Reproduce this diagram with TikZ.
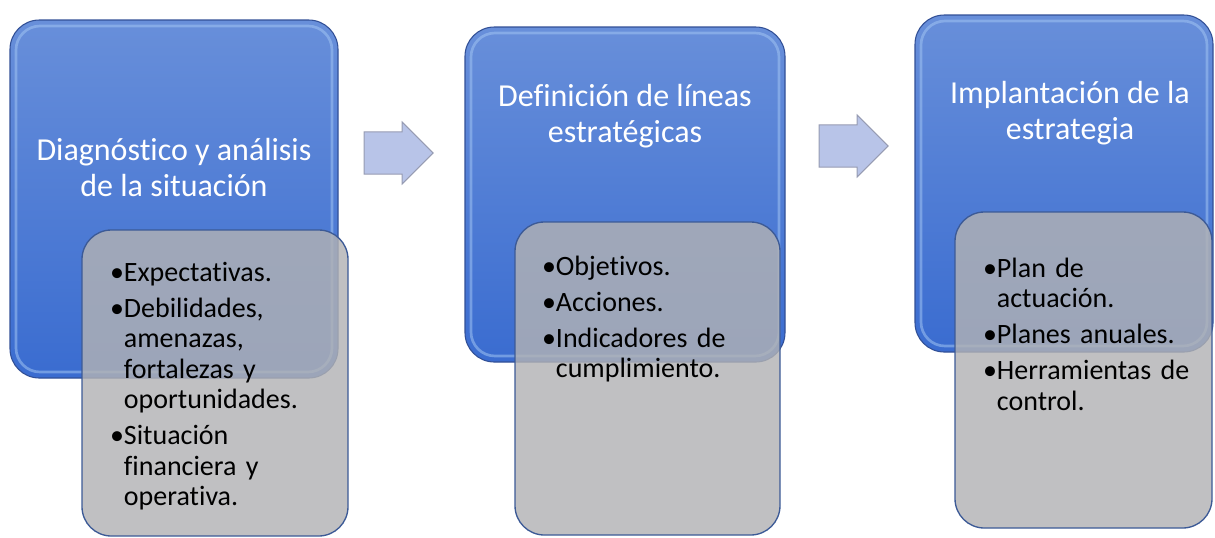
\documentclass[tikz,border=0pt]{standalone}
\usepackage{fontspec}
\setmainfont{Carlito}[Ligatures=NoCommon]
\newfontfamily\listfont{Carlito}[Ligatures=NoCommon, WordSpace=0.85]
\usetikzlibrary{shapes.arrows}
\definecolor{bluetop}{RGB}{104,143,218}
\definecolor{bluebot}{RGB}{58,108,208}
\definecolor{stageline}{RGB}{50,80,150}
\definecolor{bevelc}{RGB}{160,195,242}
\definecolor{detline}{RGB}{60,90,150}
\definecolor{detfill}{RGB}{178,178,180}
\definecolor{arrfill}{RGB}{184,196,232}
\definecolor{arrline}{RGB}{150,155,178}
\newlength\bulw
\newcommand{\nl}{\hfil\break}
\newcommand{\itm}[1]{\par\rightskip=0pt plus 1fil\parfillskip=0pt plus 1fil\hangindent=\bulw\hangafter=1\noindent\strut•#1\strut\par\vspace{4.2pt}}
\tikzset{inner sep=0pt, outer sep=0pt,
  stage/.style={draw=stageline, line width=0.8pt, rounded corners=22pt, top color=bluetop, bottom color=bluebot},
  bevel/.style={draw=bevelc, line width=2pt, rounded corners=18pt, draw opacity=0.55},
  title/.style={text=white, align=center, font=\fontsize{24}{27}\selectfont},
  detail/.style={draw=detline, line width=1pt, rounded corners=22pt, fill=detfill, fill opacity=0.82},
  items/.style={anchor=north west, text width=190pt, font=\listfont\fontsize{21}{22.8}\selectfont\settowidth\bulw{•}},
  flecha/.style={single arrow, draw=arrline, fill=arrfill, line width=0.8pt, inner ysep=15.4pt, minimum height=51.75pt, single arrow head extend=7.4pt}
}
\begin{document}
\begin{tikzpicture}[x=0.75pt, y=-0.75pt]
\useasboundingbox (0,0) rectangle (1215,537);
% blue stages
\node[stage, minimum width=246pt, minimum height=268.5pt] (s1) at (174,199) {};
\node[stage, minimum width=240pt, minimum height=251.25pt] (s2) at (625,194.5) {};
\node[stage, minimum width=223.5pt, minimum height=252.75pt] (s3) at (1064,183.5) {};
\node[bevel, minimum width=237pt, minimum height=259.5pt] (b1) at (s1.center) {};
\node[bevel, minimum width=231pt, minimum height=242.25pt] (b2) at (s2.center) {};
\node[bevel, minimum width=214.5pt, minimum height=243.75pt] (b3) at (s3.center) {};
\node[title] (t1) at (174,167) {Diagnóstico y análisis\\de la situación};
\node[title] (t2) at (625,116) {Definición de líneas\\estratégicas};
\node[title] (t3) at (1070,113) {Implantación de la\\estrategia};
% grey detail boxes
\node[detail, minimum width=199.5pt, minimum height=229.5pt] (d1) at (215,383) {};
\node[detail, minimum width=198.75pt, minimum height=234.75pt] (d2) at (647.5,378.5) {};
\node[detail, minimum width=192.75pt, minimum height=237pt] (d3) at (1083.5,370) {};
\node[items] (l1) at (110,251) {\itm{Expectativas.}\itm{Debilidades,\nl amenazas,\nl fortalezas y\nl oportunidades.}\itm{Situación\nl financiera y\nl operativa.}};
\node[items] (l2) at (542,245) {\itm{Objetivos.}\itm{Acciones.}\itm{Indicadores de\nl cumplimiento.}};
\node[items] (l3) at (983,247) {\itm{Plan de\nl actuación.}\itm{Planes anuales.}\itm{Herramientas de\nl control.}};
% arrows between stages
\foreach \n/\x/\y in {a1/388/153, a2/843/146} {
  \node[flecha] (\n) at (\x,\y) {};
} % end of \foreach \n
\end{tikzpicture}
\end{document}
